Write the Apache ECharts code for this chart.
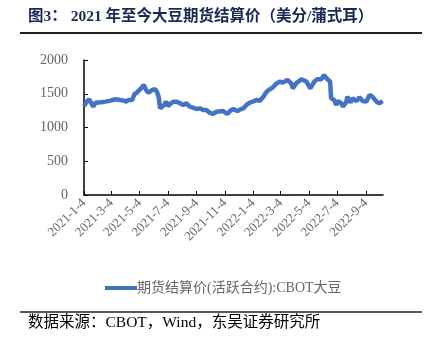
<!DOCTYPE html>
<html><head><meta charset="utf-8">
<script src="https://cdn.jsdelivr.net/npm/echarts@6/dist/echarts.min.js"></script>
<style>html,body{margin:0;padding:0;background:#fff}#c{width:427px;height:343px}</style>
</head><body><div id="c"></div>
<script>
const titleText = '图3： 2021 年至今大豆期货结算价（美分/蒲式耳）';
const sourceText = '数据来源：CBOT，Wind，东吴证券研究所';
const seriesName = '期货结算价(活跃合约):CBOT大豆';
const yTicks = [0, 500, 1000, 1500, 2000];
const xTickDates = ['2021-1-4','2021-3-4','2021-5-4','2021-7-4','2021-9-4','2021-11-4','2022-1-4','2022-3-4','2022-5-4','2022-7-4','2022-9-4'];
const dates = ['2021-01-04','2021-01-10','2021-01-15','2021-01-20','2021-01-24','2021-01-29','2021-02-09','2021-02-19','2021-03-02','2021-03-13','2021-03-23','2021-03-31','2021-04-05','2021-04-10','2021-04-18','2021-04-23','2021-04-28','2021-05-02','2021-05-07','2021-05-13','2021-05-18','2021-05-23','2021-05-31','2021-06-07','2021-06-10','2021-06-14','2021-06-17','2021-06-21','2021-06-26','2021-06-30','2021-07-04','2021-07-09','2021-07-16','2021-07-23','2021-07-30','2021-08-06','2021-08-13','2021-08-20','2021-08-27','2021-09-04','2021-09-11','2021-09-18','2021-09-25','2021-10-02','2021-10-09','2021-10-17','2021-10-20','2021-10-31','2021-11-09','2021-11-15','2021-11-22','2021-12-01','2021-12-07','2021-12-14','2021-12-22','2021-12-29','2022-01-03','2022-01-12','2022-01-18','2022-01-25','2022-02-02','2022-02-09','2022-02-15','2022-02-22','2022-03-02','2022-03-09','2022-03-19','2022-03-28','2022-03-30','2022-04-08','2022-04-18','2022-04-29','2022-05-07','2022-05-16','2022-05-22','2022-05-31','2022-06-06','2022-06-13','2022-06-19','2022-06-21','2022-06-23','2022-06-28','2022-07-02','2022-07-06','2022-07-13','2022-07-17','2022-07-24','2022-07-26','2022-08-02','2022-08-06','2022-08-15','2022-08-21','2022-08-28','2022-09-05','2022-09-12','2022-09-18','2022-09-27','2022-10-03','2022-10-10'];
const prices = [1320,1383,1418,1358,1309,1368,1373,1383,1398,1418,1408,1398,1383,1408,1408,1497,1516,1531,1580,1630,1556,1516,1556,1566,1531,1457,1284,1260,1333,1383,1319,1349,1383,1383,1358,1333,1358,1309,1294,1274,1284,1260,1260,1220,1200,1235,1225,1245,1200,1245,1274,1245,1269,1284,1344,1373,1383,1408,1393,1447,1531,1566,1591,1645,1680,1665,1704,1645,1580,1665,1714,1680,1580,1680,1714,1714,1778,1714,1680,1432,1457,1408,1333,1393,1358,1309,1383,1457,1368,1432,1393,1447,1393,1383,1482,1457,1383,1358,1393];

function ts(s){const p=s.split('-').map(Number);return Date.UTC(p[0],p[1]-1,p[2]);}
const data = dates.map((d,i)=>[ts(d), prices[i]]);
const tickVals = xTickDates.map(ts);
const serif = '"Liberation Serif","Noto Sans CJK SC",serif';

const chart = echarts.init(document.getElementById('c'), null, {renderer:'canvas'});
chart.setOption({
  animation:false,
  backgroundColor:'#fff',
  grid:{left:84, top:60, right:44, bottom:148, containLabel:false},
  xAxis:{
    type:'value', min:ts('2021-01-04'), max:ts('2022-10-11'),
    axisLine:{lineStyle:{color:'#000', width:1.5}},
    axisTick:{show:true, inside:true, length:4, customValues:tickVals, lineStyle:{color:'#000'}},
    axisLabel:{customValues:tickVals, rotate:45, color:'#666', fontFamily:serif, fontSize:13, margin:6,
      formatter:function(v){const d=new Date(v);return d.getUTCFullYear()+'-'+(d.getUTCMonth()+1)+'-'+d.getUTCDate();}},
    splitLine:{show:false}
  },
  yAxis:{
    type:'value', min:0, max:2000, interval:500,
    axisLine:{show:true, lineStyle:{color:'#000', width:1.5}},
    axisTick:{show:true, inside:true, length:4, lineStyle:{color:'#000'}},
    axisLabel:{color:'#666', fontFamily:serif, fontSize:14, margin:16, formatter:function(v){return String(v);}},
    splitLine:{show:false}
  },
  legend:{
    show:true, left:100, top:276, itemWidth:32, itemHeight:4, itemGap:0, icon:'rect',
    textStyle:{color:'#666', fontFamily:serif, fontSize:14, padding:[0,0,0,-5]},
    data:[seriesName]
  },
  series:[{
    name:seriesName, type:'line', data:data, showSymbol:false, symbol:'none',
    lineStyle:{color:'#4472C4', width:4.5}, itemStyle:{color:'#4472C4'}
  }],
  graphic:[
    {type:'text', left:28, top:9, style:{text:titleText, fill:'#172a52', font:'bold 15.5px "Liberation Serif","Noto Sans CJK SC", serif'}},
    {type:'line', shape:{x1:20,y1:33,x2:422,y2:33}, style:{stroke:'#222', lineWidth:2}},
    {type:'line', shape:{x1:20,y1:312,x2:422,y2:312}, style:{stroke:'#222', lineWidth:1.5}},
    {type:'text', left:28, top:315, style:{text:sourceText, fill:'#000', font:'15.5px "Liberation Serif","Noto Sans CJK SC", serif'}}
  ]
});
</script></body></html>
